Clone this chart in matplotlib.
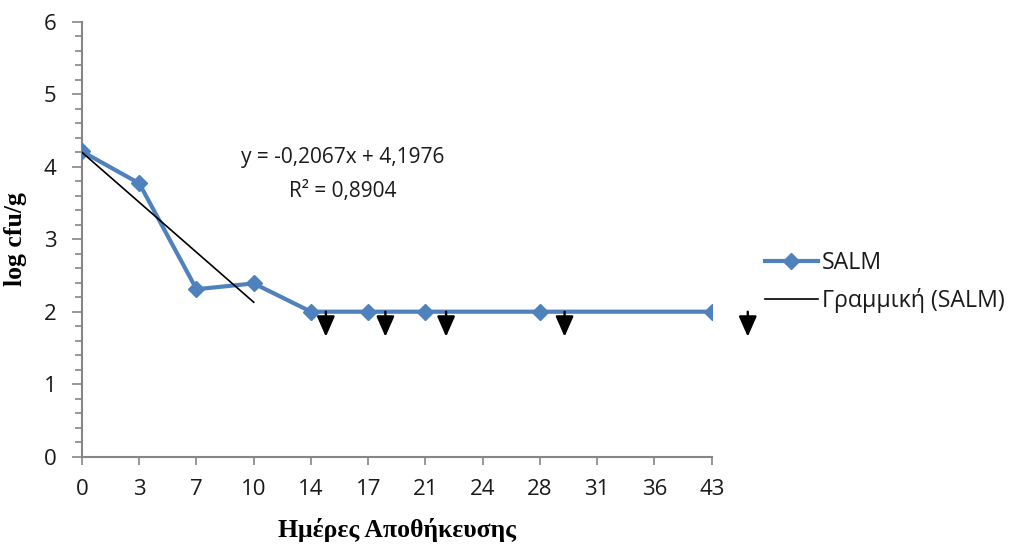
import numpy as np
import matplotlib
matplotlib.use('Agg')
import matplotlib.pyplot as plt
from matplotlib.ticker import MultipleLocator

plt.rcParams['font.family'] = ['Open Sans', 'DejaVu Sans']

# storage days (categorical axis) and SALM counts, log cfu/g
days = ['0', '3', '7', '10', '14', '17', '21', '24', '28', '31', '36', '43']
salm = [4.21, 3.77, 2.31, 2.39, 2.0, 2.0, 2.0, np.nan, 2.0, np.nan, np.nan, 2.0]

# linear trendline over days 0-10
slope = -0.2067
intercept = 4.1976
r2 = 0.8904
trend_days = [0, 10]

# "below detection limit" arrows, positions on the category axis
arrow_pos = [4.26, 5.30, 6.36, 8.43, 11.63]
arrow_top = 2.0
arrow_bottom = 1.655

blue = '#4F81BD'
grey = '#868686'
ink = '#1a1a1a'

fig = plt.figure(figsize=(10.1, 5.47), dpi=100)
ax = fig.add_axes([82/1010, 1 - 456.7/547, (711.7 - 82)/1010, (456.7 - 21.7)/547])

pos = np.arange(len(days))
vals = np.array(salm)
ok = ~np.isnan(vals)
ax.plot(pos[ok], vals[ok], color=blue, lw=3.0, marker='D', ms=8,
        mfc=blue, mec=blue, zorder=3, label='SALM')

tx = [days.index(str(d)) for d in trend_days]
ty = [intercept + slope * d for d in trend_days]
ax.plot(tx, ty, color='black', lw=1.2, zorder=4, label='Γραμμική (SALM)')

for x in arrow_pos:
    ax.annotate('', xy=(x, arrow_bottom), xytext=(x, arrow_top),
                arrowprops=dict(arrowstyle='-|>,head_length=1.25,head_width=0.55',
                                color='black', lw=1.7, shrinkA=0, shrinkB=0,
                                mutation_scale=10),
                annotation_clip=False, zorder=5)

eq = 'y = -{:.4f}x + {:.4f}'.format(-slope, intercept).replace('.', ',')
r2txt = 'R² = {:.4f}'.format(r2).replace('.', ',')
ax.text(4.56, 3.89, eq + '\n' + r2txt, ha='center', va='center',
        fontsize=15, linespacing=1.8, color=ink)

ax.set_xlim(0, len(days) - 1)
ax.set_ylim(0, 6)
ax.set_xticks(pos)
ax.set_xticklabels(days)
ax.yaxis.set_major_locator(MultipleLocator(1))
ax.yaxis.set_minor_locator(MultipleLocator(0.2))

for s in ['top', 'right']:
    ax.spines[s].set_visible(False)
for s in ['left', 'bottom']:
    ax.spines[s].set_color(grey)
    ax.spines[s].set_linewidth(1.5)

ax.tick_params(axis='y', which='major', length=7.2, width=1.2, color=grey,
               labelsize=16, pad=11, labelcolor=ink)
ax.tick_params(axis='y', which='minor', length=5, width=1.2, color=grey)
ax.tick_params(axis='x', which='major', length=5.8, width=1.2, color=grey,
               labelsize=16, pad=10, labelcolor=ink)

ax.set_ylabel('log cfu/g', family='Liberation Serif', fontweight='bold',
              fontsize=18.5, labelpad=12)
ax.set_xlabel('Ημέρες Αποθήκευσης', family='Liberation Serif',
              fontweight='bold', fontsize=18.5, labelpad=13)

ax.legend(loc='center left', bbox_to_anchor=(765/1010, 1 - 282/547),
          bbox_transform=fig.transFigure, frameon=False, fontsize=16.7,
          handlelength=2.28, handletextpad=0.17, labelspacing=0.55,
          borderaxespad=0, borderpad=0, labelcolor=ink)

fig.savefig('out.png', dpi=100, facecolor='white')
